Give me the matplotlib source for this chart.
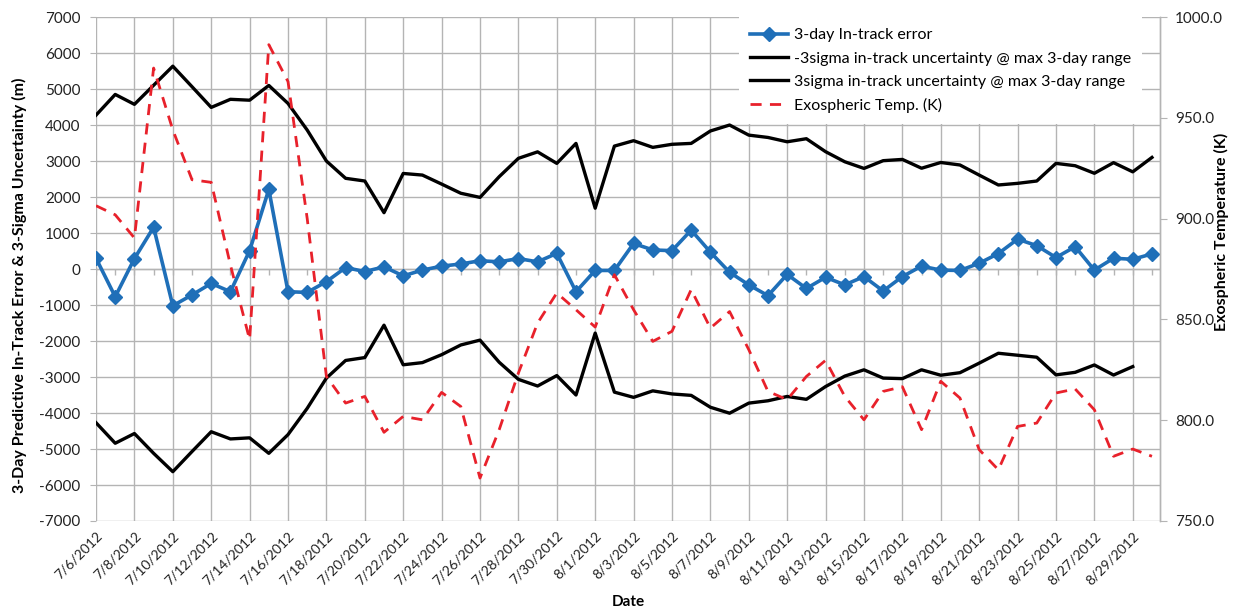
import matplotlib
matplotlib.use("Agg")
import matplotlib.pyplot as plt
from matplotlib.lines import Line2D
import pandas as pd
import numpy as np

plt.rcParams["font.family"] = ["Lato", "DejaVu Sans"]

# one sample per day, 7/6/2012 .. 8/30/2012
dates = pd.date_range("2012-07-06", "2012-08-30", freq="D")

err_3day = [300, -770, 290, 1160, -1020, -720, -400, -630, 510, 2210,
            -630, -650, -350, 40, -70, 60, -190, -30, 80, 140,
            230, 200, 290, 200, 435, -630, -40, -40, 710, 530,
            510, 1080, 470, -90, -440, -740, -150, -540, -230, -440,
            -210, -610, -210, 80, -30, -40, 160, 430, 830, 650,
            320, 620, -30, 300, 270, 420]

sig_neg = [-4270, -4840, -4570, -5120, -5630, -5070, -4520, -4720, -4690, -5120,
           -4600, -3870, -3030, -2540, -2460, -1560, -2660, -2600, -2380, -2110,
           -1975, -2590, -3065, -3250, -2960, -3500, -1780, -3420, -3565, -3385,
           -3470, -3510, -3840, -4005, -3725, -3660, -3540, -3620, -3265, -2975,
           -2800, -3030, -3045, -2800, -2950, -2880, -2615, -2340, -2395, -2450,
           -2940, -2870, -2665, -2945, -2710, None]

sig_pos = [4275, 4850, 4575, 5105, 5635, 5065, 4490, 4715, 4690, 5100,
           4600, 3860, 3000, 2520, 2445, 1565, 2655, 2610, 2360, 2105,
           1990, 2565, 3075, 3255, 2935, 3490, 1690, 3415, 3565, 3380,
           3465, 3490, 3835, 4000, 3720, 3655, 3535, 3620, 3260, 2980,
           2795, 3010, 3045, 2800, 2960, 2890, 2610, 2335, 2380, 2445,
           2935, 2870, 2660, 2955, 2700, 3100]

exo_temp = [906.4, 901.9, 890.4, 974.7, 944.0, 919.3, 918.0, 877.0, 840.0, 986.3,
            968.0, 900.0, 821.7, 808.5, 811.8, 794.0, 801.9, 800.2, 813.8, 806.8,
            771.3, 795.3, 823.4, 848.2, 863.1, 854.8, 846.2, 872.2, 854.8, 839.1,
            844.1, 864.8, 845.7, 853.9, 835.0, 814.3, 810.2, 821.7, 829.7, 811.8,
            800.2, 814.3, 816.6, 795.3, 819.3, 811.0, 785.4, 775.4, 796.9, 798.6,
            813.5, 815.5, 805.2, 782.1, 785.7, 782.1]

left_ticks = list(range(-7000, 7001, 1000))
right_ticks = [750, 800, 850, 900, 950, 1000]

BLUE = "#1f6fb8"
RED = "#e8212b"
GRID = "#b4b4b4"
TXT = "#222222"

fig = plt.figure(figsize=(12.39, 6.09), dpi=100)
ax = fig.add_axes([0.0775, 0.1445, 0.8587, 0.8275])
ax2 = ax.twinx()

sneg = np.array([np.nan if v is None else v for v in sig_neg], dtype=float)

ax.plot(dates, sig_pos, color="black", lw=2.4, zorder=3)
ax.plot(dates, sneg, color="black", lw=2.4, zorder=3)
ax.plot(dates, err_3day, color=BLUE, lw=2.6, marker="D", ms=7,
        mec=BLUE, mfc=BLUE, zorder=4)
ax2.plot(dates, exo_temp, color=RED, lw=2.0, ls=(0, (4, 3)), zorder=5)

# axes
ax.set_ylim(-7000, 7000)
ax.set_yticks(left_ticks)
ax.set_yticklabels([str(v) for v in left_ticks], fontsize=11, color=TXT)
ax2.set_ylim(750, 1000)
ax2.set_yticks(right_ticks)
ax2.set_yticklabels(["%.1f" % v for v in right_ticks], fontsize=11, color=TXT)

ax.set_xlim(dates[0], dates[-1] + pd.Timedelta(hours=10))
major = list(dates[::2])
ax.set_xticks(major)
ax.set_xticklabels(["%d/%d/%d" % (d.month, d.day, d.year) for d in major],
                   rotation=45, ha="right", va="top", rotation_mode="anchor",
                   fontsize=10, color=TXT)
ax.tick_params(axis="x", length=0, pad=6)
ax.tick_params(axis="y", length=4, color=GRID, pad=7)
ax2.tick_params(axis="y", length=5, color=GRID, pad=6)

ax.grid(True, color=GRID, lw=1.0, zorder=0)
ax.set_axisbelow(True)
for a in (ax, ax2):
    for sp in a.spines.values():
        sp.set_color(GRID)
        sp.set_linewidth(1.0)
    a.spines["left"].set_visible(False)
    a.spines["top"].set_visible(False)
    a.spines["bottom"].set_visible(False)

# horizontal axis crossing at zero, with daily tick marks
ax.axhline(0, color=GRID, lw=1.0, zorder=1)
ax.vlines(dates, -170, 0, color=GRID, lw=1.0, zorder=1)

ax.set_xlabel("Date", fontsize=11, fontweight="bold", labelpad=6)
fig.text(19 / 1239, 1 - 285 / 609,
         "3-Day Predictive In-Track Error & 3-Sigma Uncertainty (m)",
         fontsize=11.5, fontweight="bold", rotation=90, ha="center", va="center")
fig.text(1221 / 1239, 1 - 232 / 609, "Exospheric Temperature (K)",
         fontsize=11.5, fontweight="bold", rotation=90, ha="center", va="center")

handles = [
    Line2D([], [], color=BLUE, lw=2.6, marker="D", ms=7),
    Line2D([], [], color="black", lw=2.4),
    Line2D([], [], color="black", lw=2.4),
    Line2D([], [], color=RED, lw=2.0, ls=(0, (4, 3))),
]
labels = ["3-day In-track error",
          "-3sigma in-track uncertainty @ max 3-day range",
          "3sigma in-track uncertainty @ max 3-day range",
          "Exospheric Temp. (K)"]
leg = ax2.legend(handles, labels, loc="upper left", bbox_to_anchor=(0.604, 1.0),
                 fontsize=11.5, frameon=True, facecolor="white", edgecolor="none",
                 framealpha=1, borderaxespad=0, handlelength=2.4,
                 handletextpad=0.35, labelspacing=0.56, borderpad=0.7,
                 fancybox=False)
leg.set_zorder(10)

fig.savefig("out.png", facecolor="white")
